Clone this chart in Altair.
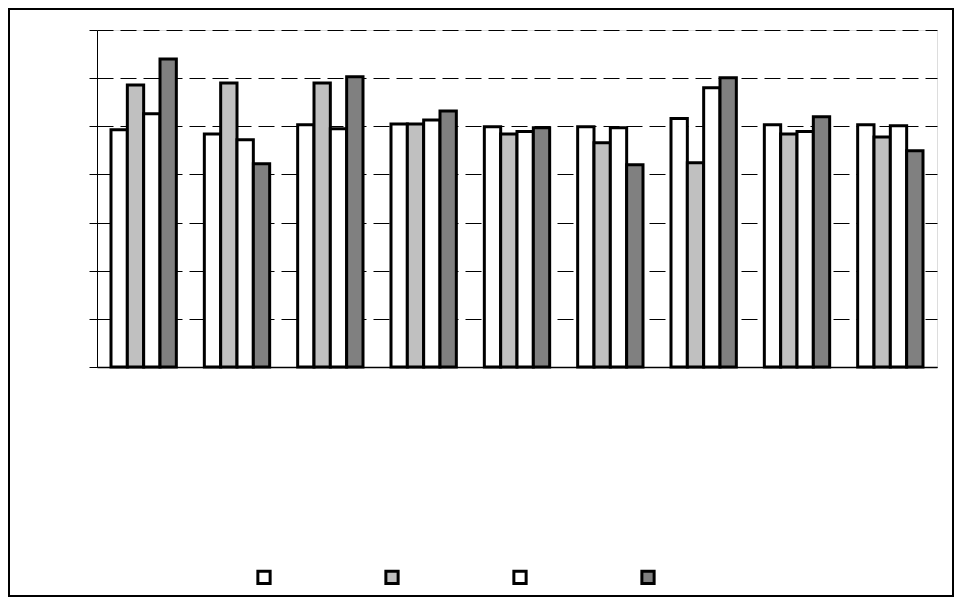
import altair as alt
import pandas as pd

groups = ["G1", "G2", "G3", "G4", "G5", "G6", "G7", "G8", "G9"]
series = ["S1", "S2", "S3", "S4"]
s1 = [4.93, 4.84, 5.03, 5.05, 4.99, 4.99, 5.16, 5.03, 5.03]
s2 = [5.86, 5.90, 5.90, 5.05, 4.84, 4.66, 4.24, 4.84, 4.78]
s3 = [5.26, 4.72, 4.95, 5.13, 4.89, 4.97, 5.80, 4.89, 5.01]
s4 = [6.40, 4.22, 6.03, 5.32, 4.97, 4.20, 6.01, 5.20, 4.49]
fills = ["#FFFFFF", "#C0C0C0", "#FFFFFF", "#808080"]

rows = []
for vals, s in zip([s1, s2, s3, s4], series):
    for g, v in zip(groups, vals):
        rows.append({"group": g, "series": s, "value": v})
df = pd.DataFrame(rows)

W, H = 840, 337
PL, PT, PR, PB = 89, 22, 17, 230

bars = alt.Chart(df).mark_bar(strokeWidth=3, stroke="black", strokeCap="square").encode(
    x=alt.X("group:N", sort=groups,
            scale=alt.Scale(paddingInner=0.30, paddingOuter=0.15),
            axis=alt.Axis(labels=False, ticks=False, title=None, domainColor="black",
                          domainWidth=1.5, grid=False)),
    xOffset=alt.XOffset("series:N", sort=series, scale=alt.Scale(paddingInner=0, paddingOuter=0)),
    y=alt.Y("value:Q", scale=alt.Scale(domain=[0, 7], nice=False),
            axis=alt.Axis(values=[0, 1, 2, 3, 4, 5, 6, 7], labels=False, title=None,
                          tickSize=8, tickColor="black", domainColor="black",
                          grid=True, gridColor="black", gridDash=[16, 7], gridWidth=1)),
    fill=alt.Fill("series:N", sort=series,
                  scale=alt.Scale(domain=series, range=fills),
                  legend=alt.Legend(orient="none", legendX=159, legendY=539,
                                    direction="horizontal", title=None,
                                    labelColor="white", labelFontSize=10,
                                    symbolType="square",
                                    symbolSize=150, symbolStrokeWidth=3,
                                    symbolStrokeColor="black", columnPadding=90)),
)

frame = alt.Chart(df).mark_rect(fill="transparent", stroke="black", strokeWidth=2).encode(
    x=alt.value(-PL + 1), x2=alt.value(W + PR - 1),
    y=alt.value(-PT + 1), y2=alt.value(H + PB - 1),
)

chart = alt.layer(bars, frame).properties(
    width=W, height=H,
    autosize=alt.AutoSizeParams(type="none"),
    padding={"left": PL, "top": PT, "right": PR, "bottom": PB},
).configure_view(stroke="transparent").configure(background="white")

chart.save("out.html", embed_options={"renderer": "svg", "actions": False})
